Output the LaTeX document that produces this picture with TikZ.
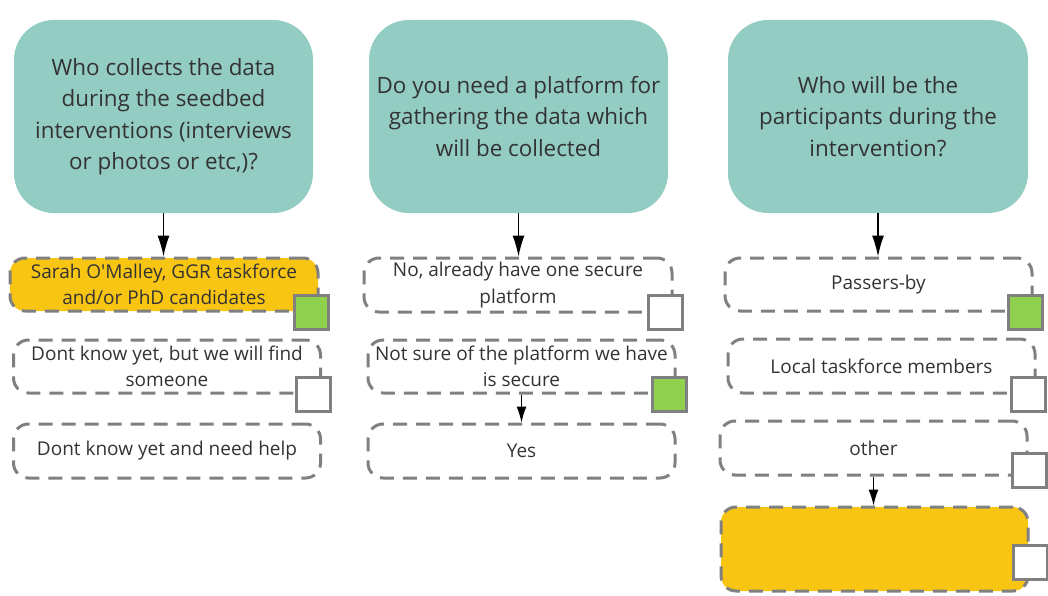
\documentclass[tikz,border=0pt]{standalone}
\usepackage{fontspec}
\setmainfont{Open Sans}
\usepackage{tikz}
\usetikzlibrary{shapes,arrows.meta}
\definecolor{qteal}{HTML}{93CCC2}
\definecolor{ayellow}{HTML}{F8C513}
\definecolor{tickgreen}{HTML}{8FD14F}
\definecolor{boxgray}{HTML}{808080}
\definecolor{txt}{HTML}{333333}
\tikzstyle{question} = [rectangle, fill=qteal, align=center, rounded corners=40pt, minimum width=299pt, minimum height=193pt, inner sep=0pt, text=txt, font=\fontsize{22.4}{31.5}\selectfont]
\tikzstyle{answer} = [rectangle, draw=boxgray, line width=3pt, dash pattern=on 14pt off 9pt, align=center, rounded corners=15pt, minimum width=307pt, minimum height=53pt, inner sep=0pt, text=txt, font=\fontsize{19}{26.5}\selectfont]
\tikzstyle{tick} = [rectangle, draw=boxgray, line width=3pt, fill=white, minimum size=34pt, inner sep=0pt]
\tikzstyle{line} = [draw, line width=1.3pt, -{Latex[length=21pt,width=12pt]}]
\tikzstyle{shortline} = [draw, line width=1.2pt, -{Latex[length=16pt,width=10pt]}]

\begin{document}
\begin{tikzpicture}[auto, x=1pt, y=-1pt]
\useasboundingbox (0, 0) rectangle (1048, 596);

% questions
\node [question] at (163.5, 116.5) (q1) {Who collects the data\\during the seedbed\\interventions (interviews\\or photos or etc,)?};
\node [question] at (518.5, 116.5) (q2) {Do you need a platform for\\gathering the data which\\will be collected};
\node [question, minimum width=300pt] at (878, 116.5) (q3) {Who will be the\\participants during the\\intervention?};

% who collects
\node [answer, fill=ayellow, minimum width=308pt] at (164, 284.5) (a1) {Sarah O\textquotesingle Malley, GGR taskforce\\and/or PhD candidates};
\node [answer] at (167, 366.5) (a2) {Dont know yet, but we will find\\someone};
\node [answer, minimum height=54pt] at (167, 451) (a3) {Dont know yet and need help};
\node [tick, fill=tickgreen] at (311, 312) (ta1) {};
\node [tick] at (313.5, 394.5) (ta2) {};
\path [line] (q1.south) to (q1.south |- a1.north);

% platform
\node [answer, minimum width=308pt, minimum height=54pt] at (518, 285) (b1) {No, already have one secure\\platform};
\node [answer] at (521.5, 366.5) (b2) {Not sure of the platform we have\\is secure};
\node [answer, minimum height=54pt] at (521.5, 451) (b3) {Yes};
\node [tick] at (665.5, 312) (tb1) {};
\node [tick, fill=tickgreen] at (669, 394.5) (tb2) {};
\path [line] (q2.south) to (q2.south |- b1.north);
\path [shortline] (b2.south) to (b2.south |- b3.north);

% participants
\node [answer] at (878.5, 284.5) (d1) {Passers-by};
\node [answer, minimum height=54pt] at (881.5, 366) (d2) {Local taskforce members};
\node [answer, minimum height=54pt] at (873.5, 448) (d3) {other};
\node [answer, fill=ayellow, minimum height=84pt] at (874.5, 549) (d4) {};
\node [tick, fill=tickgreen] at (1025.5, 312.5) (td1) {};
\node [tick] at (1028.5, 394.5) (td2) {};
\node [tick] at (1029.5, 470.5) (td3) {};
\node [tick] at (1030.5, 562) (td4) {};
\path [line] (q3.south) to (q3.south |- d1.north);
\path [shortline] (d3.south) to (d3.south |- d4.north);

\end{tikzpicture}
\end{document}
